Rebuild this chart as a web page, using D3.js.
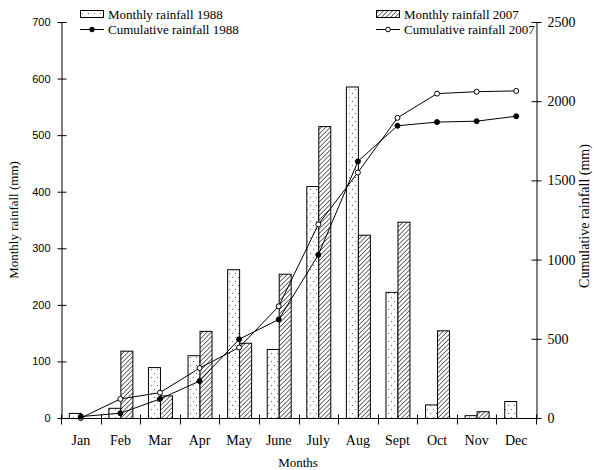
<!DOCTYPE html>
<html><head><meta charset="utf-8">
<script src="https://cdn.jsdelivr.net/npm/d3@7"></script>
<style>body{margin:0;background:#fff}svg{display:block}</style>
</head><body><svg id="c" width="594" height="470"></svg>
<script>
const months = ["Jan","Feb","Mar","Apr","May","June","July","Aug","Sept","Oct","Nov","Dec"];
const monthly1988 = [9, 18, 90, 111, 263, 122, 410, 586, 223, 24, 5, 30];
const monthly2007 = [0, 119, 40, 154, 133, 255, 516, 324, 347, 155, 12, 0];
const cumulative1988 = [9, 30, 120, 233, 497, 622, 1030, 1620, 1845, 1868, 1874, 1905];
const cumulative2007 = [0, 120, 160, 315, 445, 705, 1222, 1550, 1895, 2048, 2060, 2065];
const leftTicks = [0,100,200,300,400,500,600,700];
const rightTicks = [0,500,1000,1500,2000,2500];

const svg = d3.select("#c");
const serif = "'Liberation Serif','Times New Roman',serif";
const sans = "'Liberation Sans',Arial,sans-serif";
const L = 61, R = 536, T = 22, B = 418;

const defs = svg.append("defs");
const dots = defs.append("pattern").attr("id","dots").attr("patternUnits","userSpaceOnUse")
  .attr("width",6).attr("height",8);
dots.append("rect").attr("width",6).attr("height",8).attr("fill","#fff");
dots.append("rect").attr("x",1).attr("y",1).attr("width",1).attr("height",1).attr("fill","#666");
dots.append("rect").attr("x",4).attr("y",5).attr("width",1).attr("height",1).attr("fill","#666");
const hatch = defs.append("pattern").attr("id","hatch").attr("patternUnits","userSpaceOnUse")
  .attr("width",3.2).attr("height",3.2).attr("patternTransform","rotate(45)");
hatch.append("rect").attr("width",3.2).attr("height",3.2).attr("fill","#fff");
hatch.append("line").attr("x1",0).attr("y1",0).attr("x2",0).attr("y2",3.2)
  .attr("stroke","#333").attr("stroke-width",1.4);

const x = d3.scaleBand().domain(months).range([L, R]).padding(0);
const xs = d3.scaleBand().domain(["1988","2007"]).range([0, x.bandwidth()]).paddingInner(0).paddingOuter(0.65);
const yL = d3.scaleLinear().domain([0,700]).range([B, T]);
const yR = d3.scaleLinear().domain([0,2500]).range([B, T]);

// bars
const series = [{k:"1988", v:monthly1988, fill:"url(#dots)"},{k:"2007", v:monthly2007, fill:"url(#hatch)"}];
series.forEach(s => {
  svg.append("g").selectAll("rect").data(months.map((m,i)=>({m, v:s.v[i]})).filter(d=>d.v>0))
    .join("rect")
    .attr("x", d => x(d.m) + xs(s.k) + 0.5)
    .attr("y", d => yL(d.v) + 0.5)
    .attr("width", xs.bandwidth())
    .attr("height", d => Math.max(0, B - yL(d.v)))
    .attr("fill", s.fill).attr("stroke","#000").attr("stroke-width",1);
});

// axes
const ga = svg.append("g").attr("transform",`translate(${L+0.5},0)`)
  .call(d3.axisLeft(yL).tickValues(leftTicks).tickFormat(d3.format("d")).tickSizeInner(4).tickSizeOuter(0).tickPadding(7));
ga.selectAll(".tick line").attr("x1",5);
ga.selectAll("text").attr("font-family",sans).attr("font-size",11);
const gr = svg.append("g").attr("transform",`translate(${R+0.5},0)`)
  .call(d3.axisRight(yR).tickValues(rightTicks).tickFormat(d3.format("d")).tickSizeInner(5).tickSizeOuter(0).tickPadding(6));
gr.selectAll(".tick line").attr("x1",-5);
gr.selectAll("text").attr("font-family",serif).attr("font-size",14);
const gb = svg.append("g").attr("transform",`translate(0,${B+0.5})`)
  .call(d3.axisBottom(x).tickSizeInner(0).tickSizeOuter(0).tickPadding(17));
gb.selectAll("text").attr("font-family",serif).attr("font-size",14);
gb.select(".domain").attr("d",`M${L},0H${R+1}`);
[...months.map(m=>x(m)), R].forEach(px => {
  gb.append("line").attr("x1",Math.round(px)+0.5).attr("x2",Math.round(px)+0.5)
    .attr("y1",-4).attr("y2",6).attr("stroke","#000");
});
[ga,gr,gb].forEach(g=>g.selectAll("path,line").attr("stroke","#000"));

// lines
const lineGen = d3.line().x((d,i)=>x(months[i]) + x.bandwidth()/2).y(d=>yR(d));
function drawCum(vals, filled){
  svg.append("path").datum(vals).attr("d", lineGen).attr("fill","none").attr("stroke","#000").attr("stroke-width",1);
  svg.append("g").selectAll("circle").data(vals).join("circle")
    .attr("cx",(d,i)=>x(months[i]) + x.bandwidth()/2).attr("cy",d=>yR(d)).attr("r",2.5)
    .attr("fill", filled ? "#000" : "#fff").attr("stroke","#000").attr("stroke-width",1);
}
drawCum(cumulative2007, false);
drawCum(cumulative1988, true);

// titles
svg.append("text").attr("x",298).attr("y",467).attr("text-anchor","middle")
  .attr("font-family",serif).attr("font-size",13).text("Months");
svg.append("text").attr("transform","translate(18,220) rotate(-90)").attr("text-anchor","middle")
  .attr("font-family",serif).attr("font-size",13).text("Monthly rainfall (mm)");
svg.append("text").attr("transform","translate(589,216) rotate(-90)").attr("text-anchor","middle")
  .attr("font-family",serif).attr("font-size",14).text("Cumulative rainfall (mm)");

// legend
function legend(x0, y0, fill, label1, filled, label2){
  svg.append("rect").attr("x",x0+0.5).attr("y",y0+0.5).attr("width",23).attr("height",7)
    .attr("fill",fill).attr("stroke","#000");
  svg.append("text").attr("x",x0+28).attr("y",y0+9).attr("font-family",serif).attr("font-size",13).text(label1);
  svg.append("line").attr("x1",x0).attr("x2",x0+24).attr("y1",y0+19.5).attr("y2",y0+19.5).attr("stroke","#000");
  svg.append("circle").attr("cx",x0+12).attr("cy",y0+19.5).attr("r",2.3)
    .attr("fill",filled?"#000":"#fff").attr("stroke","#000");
  svg.append("text").attr("x",x0+28).attr("y",y0+24).attr("font-family",serif).attr("font-size",13).text(label2);
}
legend(80, 10, "url(#dots)", "Monthly rainfall 1988", true, "Cumulative rainfall 1988");
legend(376, 10, "url(#hatch)", "Monthly rainfall 2007", false, "Cumulative rainfall 2007");
</script></body></html>
